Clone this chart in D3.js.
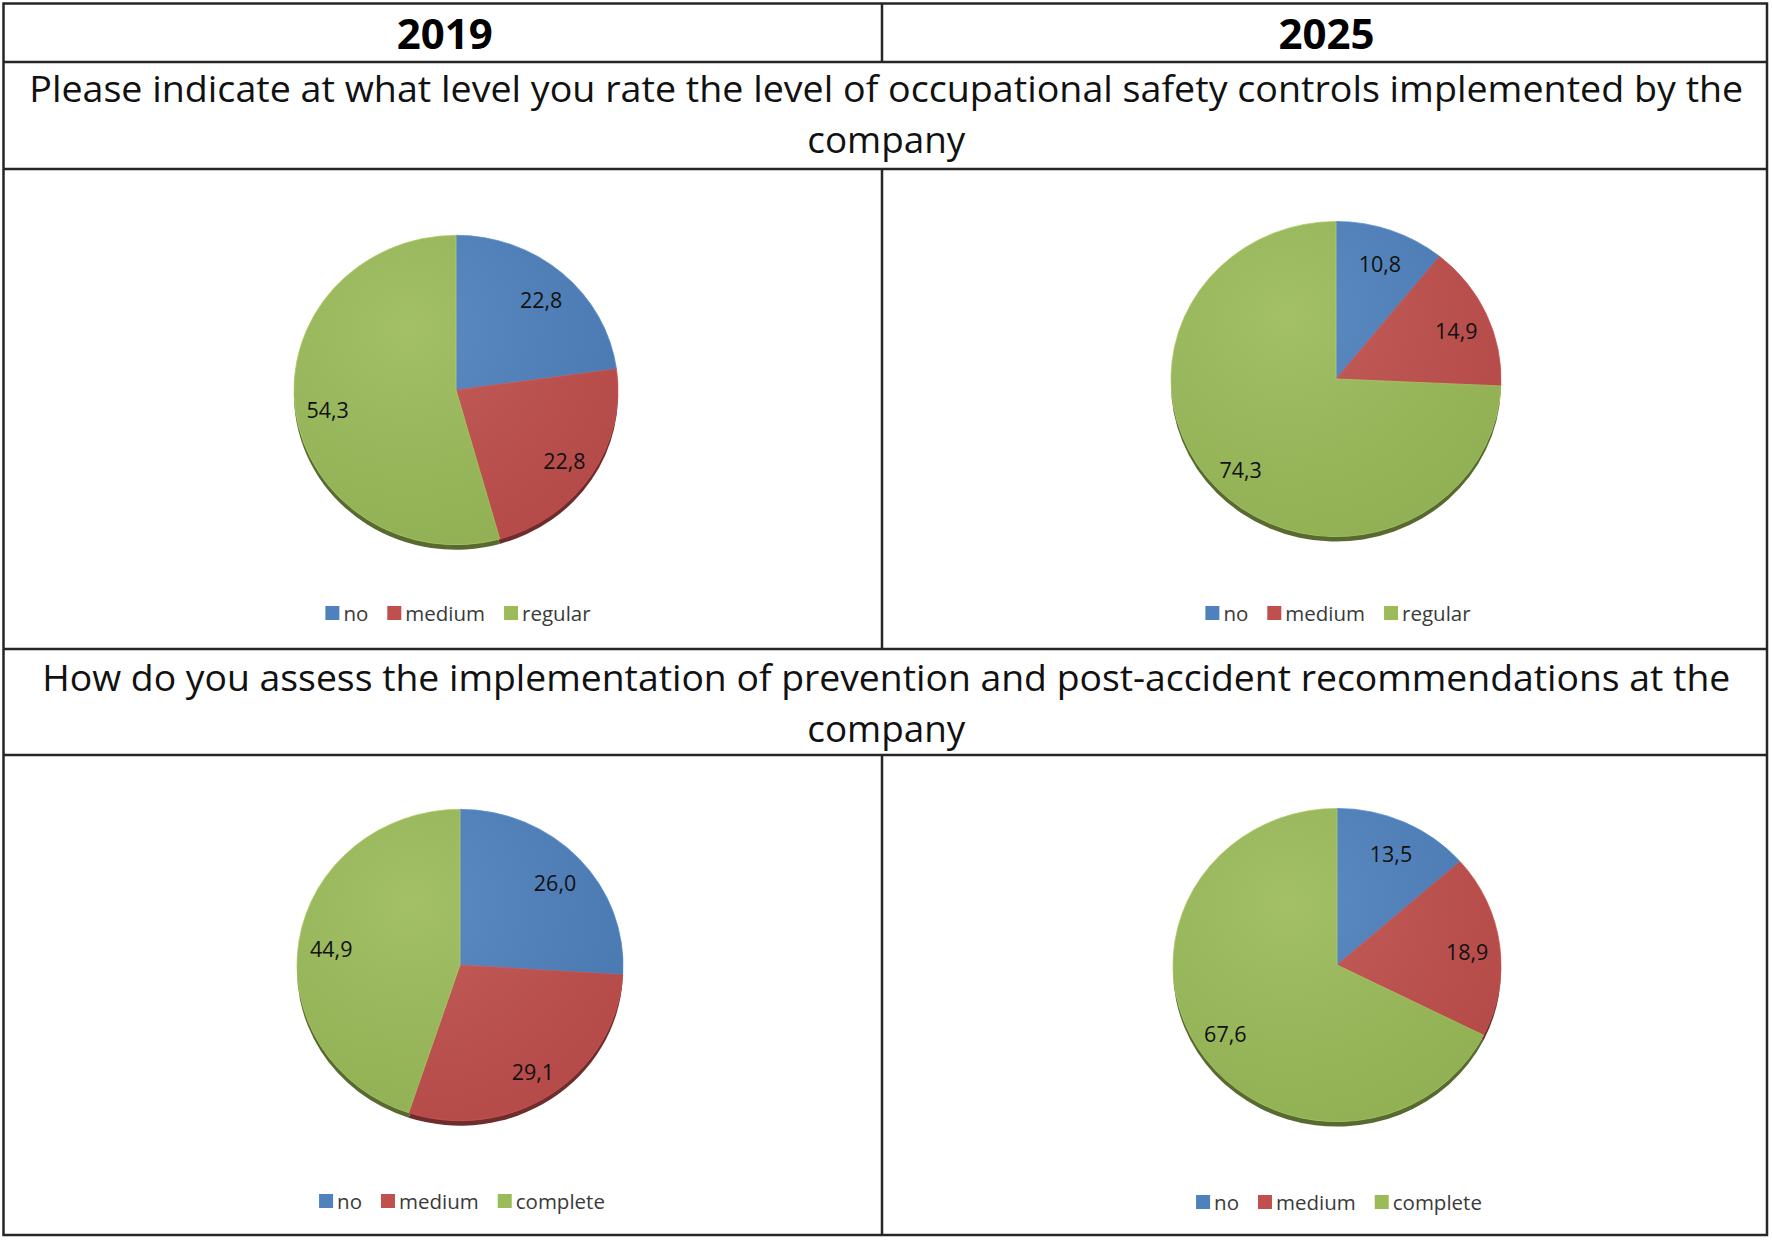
<!DOCTYPE html>
<html>
<head>
<meta charset="utf-8">
<script src="https://cdn.jsdelivr.net/npm/d3@7"></script>
<style>
  body { margin: 0; background: #fff; }
  svg { display: block; font-family: 'Open Sans', sans-serif; }
</style>
</head>
<body>
<svg id="chart" width="1772" height="1241"></svg>
<script>
// ---- data ----
const years = ['2019', '2025'];
const question1 = ['Please indicate at what level you rate the level of occupational safety controls implemented by the', 'company'];
const question2 = ['How do you assess the implementation of prevention and post-accident recommendations at the', 'company'];
const categoriesQ1 = ['no', 'medium', 'regular'];
const categoriesQ2 = ['no', 'medium', 'complete'];
const q1Values2019 = [22.8, 22.8, 54.3];
const q1Values2025 = [10.8, 14.9, 74.3];
const q2Values2019 = [26.0, 29.1, 44.9];
const q2Values2025 = [13.5, 18.9, 67.6];
const sliceColors = ['#4f81bd', '#c0504d', '#9bbb59'];

// ---- layout ----
const COL_X = [3.5, 882, 1767];
const ROW_Y = [3.5, 62, 169, 649, 755, 1235];
const Y_SQUASH = 0.955; // pies are drawn a touch flatter than round

const panels = [
  { values: q1Values2019, cats: categoriesQ1, cx: 456, cy: 390, r: 162, legendY: 613 },
  { values: q1Values2025, cats: categoriesQ1, cx: 1336, cy: 379, r: 165, legendY: 613 },
  { values: q2Values2019, cats: categoriesQ2, cx: 460, cy: 965, r: 163, legendY: 1201 },
  { values: q2Values2025, cats: categoriesQ2, cx: 1337, cy: 965, r: 164, legendY: 1202 }
];

const svg = d3.select('#chart');
const defs = svg.append('defs');

// soft light overlay, like the office chart style
const shine = defs.append('radialGradient')
  .attr('id', 'shine').attr('cx', '35%').attr('cy', '30%').attr('r', '75%');
shine.append('stop').attr('offset', '0%').attr('stop-color', '#fff').attr('stop-opacity', 0.08);
shine.append('stop').attr('offset', '100%').attr('stop-color', '#000').attr('stop-opacity', 0.06);

const color = d3.scaleOrdinal().domain([0, 1, 2]).range(sliceColors);
const pie = d3.pie().value(d => d).sort(null);

const drawPie = (p) => {
  const arcs = pie(p.values);
  const arc = d3.arc().innerRadius(0).outerRadius(p.r);
  const labelArc = d3.arc().innerRadius(p.r * 0.8).outerRadius(p.r * 0.8);

  // shadow/edge underneath
  svg.append('g')
    .attr('transform', `translate(${p.cx},${p.cy + 5}) scale(1,${Y_SQUASH})`)
    .selectAll('path')
    .data(arcs)
    .join('path')
      .attr('d', arc)
      .attr('fill', d => d3.color(color(d.index)).darker(1.6));

  const g = svg.append('g')
    .attr('transform', `translate(${p.cx},${p.cy}) scale(1,${Y_SQUASH})`);
  g.selectAll('path')
    .data(arcs)
    .join('path')
      .attr('d', arc)
      .attr('fill', d => color(d.index))
      .attr('stroke', d => d3.color(color(d.index)).brighter(0.3))
      .attr('stroke-width', 0.8);
  g.append('circle').attr('r', p.r).attr('fill', 'url(#shine)');

  svg.append('g')
    .selectAll('text')
    .data(arcs)
    .join('text')
      .attr('x', d => p.cx + labelArc.centroid(d)[0])
      .attr('y', d => p.cy + 3 + labelArc.centroid(d)[1] * Y_SQUASH)
      .attr('text-anchor', 'middle')
      .attr('dominant-baseline', 'central')
      .attr('font-size', 21.5)
      .attr('fill', '#111')
      .text(d => d3.format('.1f')(d.data).replace('.', ','));

  // legend, centred under the pie
  const leg = svg.append('g').attr('font-size', 20.5).attr('fill', '#3a3a3a');
  const items = leg.selectAll('g')
    .data(p.cats)
    .join('g');
  items.append('rect')
    .attr('width', 14).attr('height', 14)
    .attr('y', p.legendY - 7)
    .attr('fill', (d, i) => color(i));
  items.append('text')
    .attr('y', p.legendY)
    .attr('dominant-baseline', 'central')
    .text(d => d);
  let x = 0;
  items.each(function() {
    const it = d3.select(this);
    it.select('rect').attr('x', x);
    it.select('text').attr('x', x + 18);
    x += 18 + it.select('text').node().getComputedTextLength() + 19;
  });
  const total = x - 19;
  leg.attr('transform', `translate(${p.cx + 2 - total / 2},0)`);
};

panels.forEach(drawPie);

// ---- table grid ----
const grid = svg.append('g')
  .attr('stroke', '#262626').attr('stroke-width', 2.5).attr('fill', 'none');
grid.append('rect')
  .attr('x', COL_X[0]).attr('y', ROW_Y[0])
  .attr('width', COL_X[2] - COL_X[0]).attr('height', ROW_Y[5] - ROW_Y[0]);
ROW_Y.slice(1, 5).forEach(y => {
  grid.append('line').attr('x1', COL_X[0]).attr('x2', COL_X[2]).attr('y1', y).attr('y2', y);
});
[[ROW_Y[0], ROW_Y[1]], [ROW_Y[2], ROW_Y[3]], [ROW_Y[4], ROW_Y[5]]].forEach(([a, b]) => {
  grid.append('line').attr('x1', COL_X[1]).attr('x2', COL_X[1]).attr('y1', a).attr('y2', b);
});

// ---- header and question text ----
const midX = (COL_X[0] + COL_X[2]) / 2;
svg.append('g').selectAll('text')
  .data(years)
  .join('text')
    .attr('x', (d, i) => (COL_X[i] + COL_X[i + 1]) / 2 + 2)
    .attr('y', 49)
    .attr('text-anchor', 'middle')
    .attr('font-size', 42)
    .attr('font-weight', 'bold')
    .attr('fill', '#000')
    .text(d => d);

const drawQuestion = (lines, baseY, widths) => {
  svg.append('g').selectAll('text')
    .data(lines)
    .join('text')
      .attr('x', midX + 1)
      .attr('y', (d, i) => baseY + i * 51)
      .attr('text-anchor', 'middle')
      .attr('font-size', 36)
      .attr('fill', '#111')
      .attr('textLength', (d, i) => widths[i])
      .attr('lengthAdjust', 'spacingAndGlyphs')
      .text(d => d);
};
drawQuestion(question1, 102, [1714, 158]);
drawQuestion(question2, 691, [1688, 158]);
</script>
</body>
</html>
